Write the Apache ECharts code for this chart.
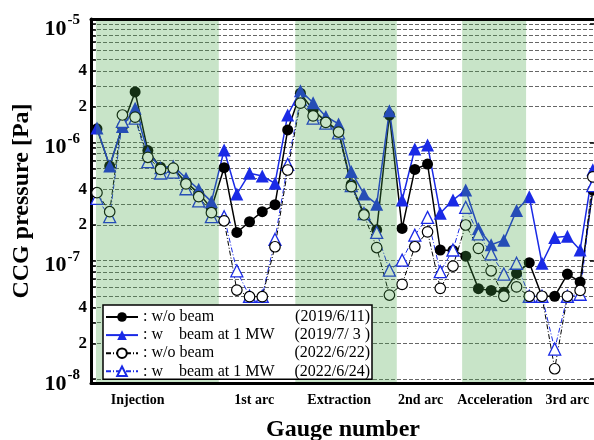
<!DOCTYPE html>
<html>
<head>
<meta charset="utf-8">
<script src="https://cdn.jsdelivr.net/npm/echarts@6/dist/echarts.min.js"></script>
<style>html,body{margin:0;padding:0;background:#fff}#c{width:594px;height:440px}</style>
</head>
<body>
<div id="c"></div>
<script>
const gaugeNumbers = [1,2,3,4,5,6,7,8,9,10,11,12,13,14,15,16,17,18,19,20,21,22,23,24,25,26,27,28,29,30,31,32,33,34,35,36,37,38,39,40];
// w/o beam (2019/6/11)
const woBeam2019 = [1.3e-6,6.3e-7,1.36e-6,2.66e-6,8.5e-7,6.15e-7,6.0e-7,4.6e-7,3.7e-7,2.77e-7,6.1e-7,1.73e-7,2.13e-7,2.59e-7,2.97e-7,1.27e-6,2.6e-6,1.87e-6,1.5e-6,1.25e-6,4.4e-7,2.5e-7,1.82e-7,1.7e-6,1.87e-7,5.9e-7,6.55e-7,1.23e-7,1.22e-7,1.09e-7,5.8e-8,5.6e-8,5.4e-8,7.8e-8,9.6e-8,5.0e-8,5.0e-8,7.7e-8,6.6e-8,3.95e-7];
// w beam at 1 MW (2019/7/3)
const wBeam2019 = [1.32e-6,6.3e-7,1.36e-6,1.94e-6,8.2e-7,6.1e-7,6.3e-7,4.97e-7,4.0e-7,3.15e-7,8.6e-7,3.65e-7,5.47e-7,5.19e-7,4.5e-7,1.7e-6,2.73e-6,2.16e-6,1.65e-6,1.43e-6,5.65e-7,3.65e-7,3.0e-7,1.85e-6,3.25e-7,8.77e-7,9.5e-7,2.51e-7,3.25e-7,3.95e-7,1.87e-7,1.36e-7,1.49e-7,2.65e-7,3.47e-7,9.5e-8,1.57e-7,1.61e-7,1.23e-7,5.85e-7];
// w/o beam (2022/6/22)
const woBeam2022 = [3.75e-7,2.59e-7,1.7e-6,1.63e-6,7.46e-7,5.9e-7,6.05e-7,4.45e-7,3.47e-7,2.54e-7,2.17e-7,5.64e-8,4.96e-8,4.96e-8,1.31e-7,5.83e-7,2.14e-6,1.67e-6,1.47e-6,1.22e-6,4.22e-7,2.43e-7,1.29e-7,5.12e-8,6.3e-8,1.31e-7,1.75e-7,5.83e-8,9.0e-8,2.0e-7,1.27e-7,8.2e-8,5.0e-8,6.0e-8,5.0e-8,5.0e-8,1.22e-8,5.0e-8,5.6e-8,5.1e-7];
// w beam at 1 MW (2022/6/24)
const wBeam2022 = [3.36e-7,2.35e-7,1.5e-6,1.6e-6,6.85e-7,5.5e-7,5.6e-7,4.05e-7,3.2e-7,2.35e-7,2.35e-7,8.2e-8,5.0e-8,5.0e-8,1.51e-7,6.5e-7,2.3e-6,1.6e-6,1.45e-6,1.2e-6,4.3e-7,2.5e-7,1.73e-7,8.3e-8,1.01e-7,1.64e-7,2.32e-7,8.06e-8,1.23e-7,2.82e-7,1.68e-7,1.14e-7,7.7e-8,9.5e-8,5.0e-8,5.0e-8,1.79e-8,5.0e-8,5.2e-8,4.3e-7];

const yLabelValues = [1e-8,2e-8,4e-8,1e-7,2e-7,4e-7,1e-6,2e-6,4e-6,1e-5];
const yGridValues = [1e-8,2e-8,3e-8,4e-8,5e-8,6e-8,7e-8,8e-8,9e-8,1e-7,2e-7,3e-7,4e-7,5e-7,6e-7,7e-7,8e-7,9e-7,1e-6,2e-6,3e-6,4e-6,5e-6,6e-6,7e-6,8e-6,9e-6,1e-5];
const yMajorValues = [1e-8,1e-7,1e-6,1e-5];
const regionNames = ['Injection','1st arc','Extraction','2nd arc','Acceleration','3rd arc'];
const regionLabelPos = [4.2,13.37,20.05,26.46,32.3,38.0];
const bandRanges = [[0.92,10.58],[16.6,24.58],[29.72,34.75]];
const seriesNames = ['A','B','C','D'];
const legendTexts = [': w/o beam', ': w    beam at 1 MW', ': w/o beam', ': w    beam at 1 MW'];
const legendDates = ['(2019/6/11)', '(2019/7/ 3 )', '(2022/6/22)', '(2022/6/24)'];

const X_MIN = 0.53, X_MAX = 40.17;
const Y_MIN = 9.25e-9, Y_MAX = 1.1e-5;
const SERIF = 'Liberation Serif';
const BLUE = '#1a2ae6';

function pairs(vals){ return gaugeNumbers.map((g,i)=>[g, vals[i]]); }
function fmtY(v){
  const e = Math.floor(Math.log10(v) + 1e-9);
  const m = Math.round(v / Math.pow(10, e));
  return m === 1 ? '{b|10}{s|' + e + '}' : '{m|' + m + '}';
}

const chart = echarts.init(document.getElementById('c'), null, {renderer:'canvas'});
chart.setOption({
  animation: false,
  grid: {left: 91, top: 19, width: 504, height: 364, containLabel: false, outerBoundsMode: 'none'},
  xAxis: [{
    type: 'value', min: X_MIN, max: X_MAX, position: 'bottom', z: 6,
    axisLine: {show: true, onZero: false, lineStyle: {color: '#000', width: 3}},
    axisTick: {show: false}, splitLine: {show: false},
    axisLabel: {
      customValues: regionLabelPos,
      formatter: v => regionNames[regionLabelPos.indexOf(v)] || '',
      fontFamily: SERIF, fontWeight: 'bold', fontSize: 14, color: '#000', margin: 10
    },
    name: 'Gauge number', nameLocation: 'middle', nameGap: 35,
    nameTextStyle: {fontFamily: SERIF, fontWeight: 'bold', fontSize: 24, color: '#000'}
  }, {
    type: 'value', min: X_MIN, max: X_MAX, position: 'top', z: 6,
    axisLine: {show: true, onZero: false, lineStyle: {color: '#000', width: 3}},
    axisTick: {show: false}, splitLine: {show: false}, axisLabel: {show: false}
  }],
  yAxis: [{
    type: 'log', logBase: 10, min: Y_MIN, max: Y_MAX, position: 'left',
    axisLine: {show: true, onZero: false, lineStyle: {color: '#000', width: 3}},
    axisTick: {show: true, inside: true, length: 5, customValues: yGridValues, lineStyle: {color: '#000', width: 1.5}},
    splitLine: {show: true, lineStyle: {color: '#666', width: 1, type: [4, 2]}},
    axisLabel: {
      customValues: yLabelValues, formatter: fmtY, margin: 4,
      rich: {
        b: {fontFamily: SERIF, fontWeight: 'bold', fontSize: 22, color: '#000', lineHeight: 22, padding: [10, 0, 0, 0]},
        s: {fontFamily: SERIF, fontWeight: 'bold', fontSize: 15, color: '#000', lineHeight: 15, verticalAlign: 'top', padding: [0, 7, 0, 1]},
        m: {fontFamily: SERIF, fontWeight: 'bold', fontSize: 17, color: '#000', lineHeight: 17}
      }
    },
    name: 'CCG pressure [Pa]', nameLocation: 'middle', nameGap: 53, nameRotate: 90,
    nameTextStyle: {fontFamily: SERIF, fontWeight: 'bold', fontSize: 24, color: '#000'}
  }, {
    type: 'log', logBase: 10, min: Y_MIN, max: Y_MAX, position: 'right',
    axisLine: {show: true, onZero: false, lineStyle: {color: '#000', width: 3}},
    axisTick: {show: true, inside: true, length: 5, customValues: yMajorValues, lineStyle: {color: '#000', width: 1.5}},
    splitLine: {show: false}, axisLabel: {show: false}
  }],
  legend: {
    data: seriesNames, orient: 'vertical', left: 103, top: 305, z: 10,
    backgroundColor: '#fff', borderColor: '#000', borderWidth: 1.5, borderRadius: 0,
    padding: [4, 2, 0, 2], itemGap: 2.1, itemWidth: 32, itemHeight: 12,
    formatter: name => {
      const i = seriesNames.indexOf(name);
      return '{n|' + legendTexts[i] + '}{d|' + legendDates[i] + '}';
    },
    textStyle: {
      fontFamily: SERIF, fontSize: 16, color: '#000', lineHeight: 16,
      rich: {
        n: {fontFamily: SERIF, fontSize: 16, color: '#000', width: 151, lineHeight: 16},
        d: {fontFamily: SERIF, fontSize: 16, color: '#000', width: 76, align: 'right', lineHeight: 16}
      }
    }
  },
  series: [
    {name: 'A', type: 'line', data: pairs(woBeam2019), symbol: 'circle', symbolSize: 11, z: 2,
     itemStyle: {color: '#000'}, lineStyle: {color: '#000', width: 1.5}},
    {name: 'B', type: 'line', data: pairs(wBeam2019), symbol: 'triangle', symbolSize: 13, z: 2,
     itemStyle: {color: BLUE}, lineStyle: {color: BLUE, width: 1.5}},
    {name: 'D', type: 'line', data: pairs(wBeam2022), symbol: 'triangle', symbolSize: 12, z: 2,
     itemStyle: {color: '#fff', borderColor: BLUE, borderWidth: 1.3}, lineStyle: {color: BLUE, width: 1, type: [5, 2, 1, 2]}},
    {name: 'C', type: 'line', data: pairs(woBeam2022), symbol: 'circle', symbolSize: 10.5, z: 2,
     itemStyle: {color: '#fff', borderColor: '#000', borderWidth: 1.2}, lineStyle: {color: '#000', width: 1, type: [5, 2, 1, 2]}},
    {name: 'bands', type: 'line', data: [], z: 5, silent: true,
     markArea: {silent: true, z: 5, itemStyle: {color: 'rgba(68,163,68,0.294)'},
       data: bandRanges.map(r => [{xAxis: r[0]}, {xAxis: r[1]}])}}
  ]
});
</script>
</body>
</html>
